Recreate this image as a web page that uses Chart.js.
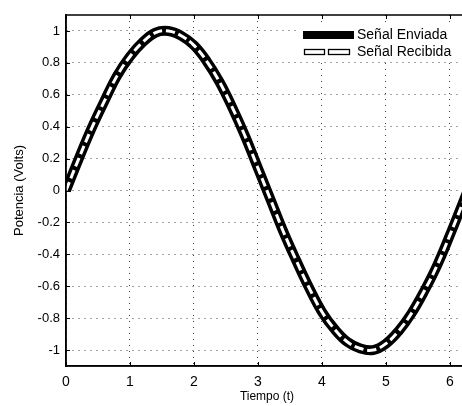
<!DOCTYPE html>
<html>
<head>
<meta charset="utf-8">
<script src="https://cdn.jsdelivr.net/npm/chart.js@4"></script>
<style>
    body { margin: 0; background: #fff; overflow: hidden; }
    #wrap { width: 470px; height: 406px; }
</style>
</head>
<body>
<div id="wrap"><canvas id="lineChart"></canvas></div>
<script>
const $ = id => document.getElementById(id);

// valores
const tiempo = [0, 0.2, 0.4, 0.6, 0.8, 1.0, 1.2, 1.4, 1.6, 1.8, 2.0, 2.2, 2.4, 2.6, 2.8, 3.0,
    3.2, 3.4, 3.6, 3.8, 4.0, 4.2, 4.4, 4.6, 4.8, 5.0, 5.2, 5.4, 5.6, 5.8, 6.0, 6.2, 6.28];
const enviada = [0, 0.2, 0.39, 0.56, 0.72, 0.84, 0.93, 0.99, 1.0, 0.97, 0.91, 0.81, 0.68, 0.52, 0.34, 0.14,
    -0.06, -0.26, -0.44, -0.61, -0.76, -0.87, -0.95, -0.99, -1.0, -0.96, -0.88, -0.77, -0.63, -0.47, -0.28, -0.08, 0];
const recibida = [0, 0.2, 0.39, 0.56, 0.72, 0.84, 0.93, 0.99, 1.0, 0.97, 0.91, 0.81, 0.68, 0.52, 0.34, 0.14,
    -0.06, -0.26, -0.44, -0.61, -0.76, -0.87, -0.95, -0.99, -1.0, -0.96, -0.88, -0.77, -0.63, -0.47, -0.28, -0.08, 0];
const xTicks = [0, 1, 2, 3, 4, 5, 6];
const yTicks = [-1, -0.8, -0.6, -0.4, -0.2, 0, 0.2, 0.4, 0.6, 0.8, 1];

const FONT = 'Liberation Sans';

// marco, marcas hacia dentro y leyenda dentro del area
const boxLegend = {
    id: 'boxLegend',
    afterDraw(chart) {
        const {ctx, chartArea: a, scales} = chart;
        ctx.save();
        ctx.strokeStyle = '#000';
        ctx.lineWidth = 1.5;
        ctx.strokeRect(a.left, a.top, a.right - a.left, a.bottom - a.top);

        ctx.lineWidth = 1;
        ctx.beginPath();
        xTicks.forEach(v => {
            const px = Math.round(scales.x.getPixelForValue(v)) + 0.5;
            ctx.moveTo(px, a.bottom); ctx.lineTo(px, a.bottom - 4);
            ctx.moveTo(px, a.top); ctx.lineTo(px, a.top + 4);
        });
        yTicks.forEach(v => {
            const py = Math.round(scales.y.getPixelForValue(v)) + 0.5;
            ctx.moveTo(a.left, py); ctx.lineTo(a.left + 4, py);
        });
        ctx.stroke();

        ctx.fillStyle = '#fff';
        ctx.fillRect(298, 24, 172, 36);

        ctx.fillStyle = '#000';
        ctx.fillRect(303, 31, 51, 8);

        ctx.lineWidth = 1.3;
        ctx.strokeRect(304.5, 49.5, 20, 5);
        ctx.strokeRect(328.5, 49.5, 21, 5);

        ctx.font = `14px "${FONT}"`;
        ctx.textBaseline = 'middle';
        ctx.fillText('Señal Enviada', 357, 35);
        ctx.fillText('Señal Recibida', 357, 52);
        ctx.restore();
    }
};

const drawLine = () => {
    const ctx = $('lineChart').getContext('2d');
    new Chart(ctx, {
        type: 'line',
        data: {
            datasets: [
                {
                    label: 'Señal Enviada',
                    data: tiempo.map((t, i) => ({x: t, y: enviada[i]})),
                    borderColor: '#000',
                    borderWidth: 10,
                    pointRadius: 0,
                    tension: 0.4,
                    order: 1,
                    fill: false
                },
                {
                    label: 'Señal Recibida',
                    data: tiempo.map((t, i) => ({x: t, y: recibida[i]})),
                    borderColor: '#fff',
                    borderWidth: 3,
                    borderDash: [9, 4],
                    pointRadius: 0,
                    tension: 0.4,
                    order: 0,
                    fill: false
                }
            ]
        },
        options: {
            responsive: true,
            maintainAspectRatio: false,
            animation: false,
            layout: {padding: {top: 15, right: 2, left: 0, bottom: 0}},
            plugins: {legend: {display: false}, tooltip: {enabled: false}},
            scales: {
                x: {
                    type: 'linear',
                    min: 0,
                    max: 6.2832,
                    afterBuildTicks: s => { s.ticks = xTicks.map(v => ({value: v})); },
                    afterFit: s => { s.height = 40; },
                    ticks: {
                        color: '#000',
                        padding: 8,
                        font: {family: FONT, size: 14}
                    },
                    grid: {color: '#444', drawTicks: false},
                    border: {color: '#000', width: 1.5, dash: [1, 5]},
                    title: {
                        display: true,
                        text: 'Tiempo (t)',
                        color: '#000',
                        padding: {top: 0, bottom: 2},
                        font: {family: FONT, size: 12}
                    }
                },
                y: {
                    min: -1.1,
                    max: 1.1,
                    afterBuildTicks: s => { s.ticks = yTicks.map(v => ({value: v})); },
                    afterFit: s => { s.width = 66; },
                    ticks: {
                        color: '#000',
                        padding: 6,
                        font: {family: FONT, size: 13},
                        callback: v => String(Math.round(v * 10) / 10)
                    },
                    grid: {color: '#444', drawTicks: false},
                    border: {color: '#000', width: 1.5, dash: [1, 5]},
                    title: {
                        display: true,
                        text: 'Potencia (Volts)',
                        color: '#000',
                        padding: {top: 12, bottom: 0},
                        font: {family: FONT, size: 13}
                    }
                }
            }
        },
        plugins: [boxLegend]
    });
}

window.onload = () => drawLine();
</script>
</body>
</html>
